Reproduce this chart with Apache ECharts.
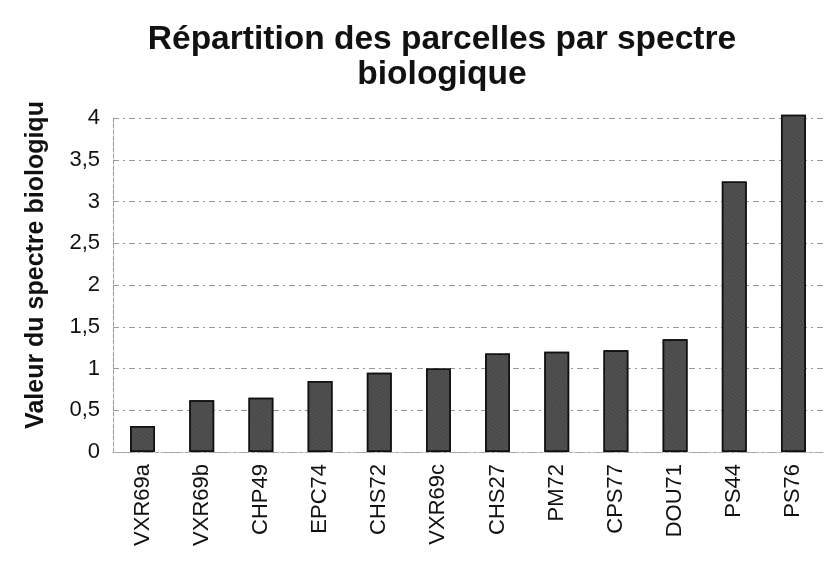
<!DOCTYPE html>
<html>
<head>
<meta charset="utf-8">
<script src="https://cdn.jsdelivr.net/npm/echarts@6/dist/echarts.min.js"></script>
<style>
html, body { margin: 0; padding: 0; background: #fff; }
#chart { width: 825px; height: 562px; }
</style>
</head>
<body>
<div id="chart"></div>
<script>
// Données
var parcelles = ['VXR69a', 'VXR69b', 'CHP49', 'EPC74', 'CHS72', 'VXR69c', 'CHS27', 'PM72', 'CPS77', 'DOU71', 'PS44', 'PS76'];
var valeurs = [0.31, 0.62, 0.65, 0.85, 0.95, 1.0, 1.18, 1.2, 1.22, 1.35, 3.24, 4.04];

var dom = document.getElementById('chart');
var myChart = echarts.init(dom, null, { renderer: 'canvas' });

var option = {
	animation: false,
	title: {
		text: 'Répartition des parcelles par spectre\nbiologique',
		left: 437,
		textAlign: 'center',
		top: 17,
		textStyle: {
			fontFamily: 'Liberation Sans',
			fontSize: 33.5,
			fontWeight: 'bold',
			color: '#111',
			lineHeight: 35
		}
	},
	grid: {
		left: 113,
		right: 2,
		top: 118,
		bottom: 110
	},
	xAxis: {
		type: 'category',
		data: parcelles,
		axisLine: { lineStyle: { color: '#aaa', type: 'dashed' } },
		axisTick: { show: false },
		axisLabel: {
			rotate: 90,
			fontFamily: 'Liberation Sans',
			fontSize: 22,
			color: '#111',
			margin: 12
		}
	},
	yAxis: {
		type: 'value',
		min: 0,
		max: 4,
		interval: 0.5,
		name: 'Valeur du spectre biologique',
		nameLocation: 'middle',
		nameGap: 64,
		nameTruncate: { maxWidth: 330, ellipsis: '' },
		nameTextStyle: {
			fontFamily: 'Liberation Sans',
			fontSize: 25,
			fontWeight: 'bold',
			color: '#111',
			padding: [0, 0, 0, 40]
		},
		axisLine: { show: true, lineStyle: { color: '#999', type: 'dashed' } },
		axisTick: { show: false },
		axisLabel: {
			fontFamily: 'Liberation Sans',
			fontSize: 22,
			color: '#111',
			margin: 13,
			formatter: function (v) { return String(v).replace('.', ','); }
		},
		splitLine: { lineStyle: { color: '#999', type: [6, 4, 2, 4], width: 1 } }
	},
	series: [{
		type: 'bar',
		data: valeurs,
		barWidth: '42%',
		clip: false,
		itemStyle: {
			color: '#4a4a4a',
			borderColor: '#111',
			borderWidth: 1.5,
			decal: {
				symbol: 'rect',
				symbolSize: 0.6,
				dashArrayX: [2, 1],
				dashArrayY: [1, 2],
				rotation: 0.6,
				color: 'rgba(160,160,160,0.55)'
			}
		}
	}]
};

myChart.setOption(option);
</script>
</body>
</html>
